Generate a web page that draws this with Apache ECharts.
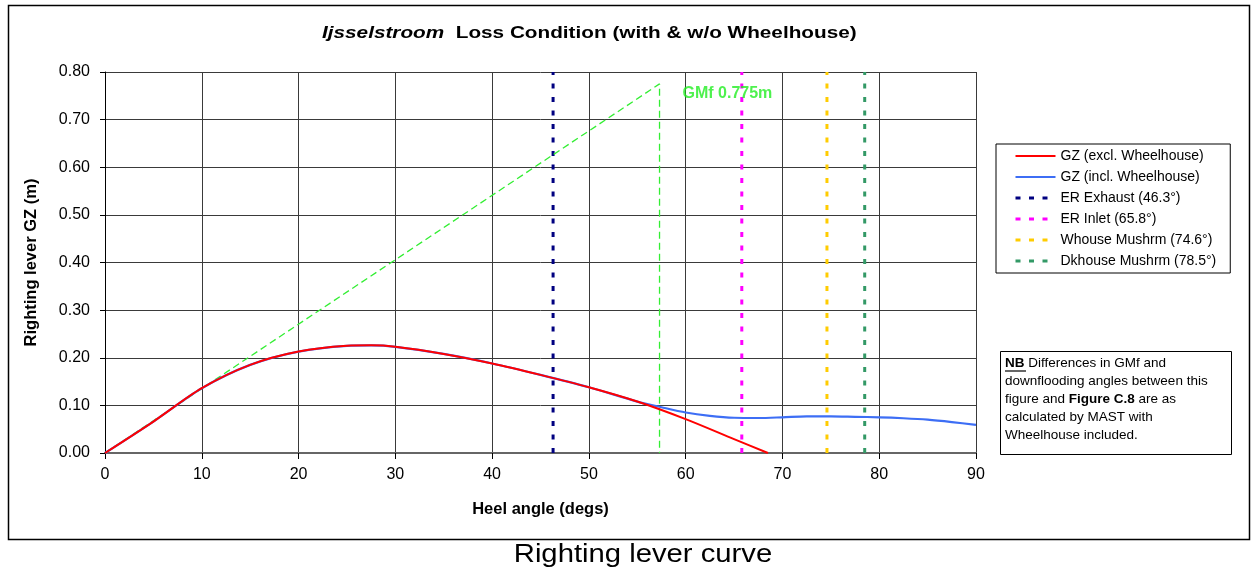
<!DOCTYPE html>
<html>
<head>
<meta charset="utf-8">
<script src="https://cdn.jsdelivr.net/npm/echarts@6/dist/echarts.min.js"></script>
<style>
  html, body { margin: 0; padding: 0; background: #fff; }
  #chart { width: 1253px; height: 573px; }
</style>
</head>
<body>
<div id="chart"></div>
<script>
// heel angle (deg) and GZ (m)
const heelExcl = [0, 5, 10, 15, 20, 25, 27.5, 30, 35, 40, 45, 50, 55, 60, 65, 68.5];
const gzExcl   = [0, 0.066, 0.136, 0.185, 0.213, 0.225, 0.226, 0.223, 0.208, 0.188, 0.164, 0.138, 0.108, 0.071, 0.029, 0];

const heelIncl = [0, 5, 10, 15, 20, 25, 27.5, 30, 35, 40, 45, 50, 55, 57.5, 60, 62.5, 65, 67.5, 70, 72.5, 75, 77.5, 80, 82.5, 85, 87.5, 90];
const gzIncl   = [0, 0.066, 0.136, 0.185, 0.213, 0.225, 0.226, 0.223, 0.208, 0.188, 0.164, 0.138, 0.108, 0.096, 0.085, 0.078, 0.074, 0.0735, 0.075, 0.077, 0.077, 0.076, 0.075, 0.073, 0.070, 0.065, 0.059];

// initial GM line: from origin to (57.3 deg = 1 rad, GMf)
const gmAngle = 57.3;
const gmValue = 0.775;

const gzNames     = ['GZ (excl. Wheelhouse)', 'GZ (incl. Wheelhouse)'];
const floodNames  = ['ER Exhaust (46.3°)', 'ER Inlet (65.8°)', 'Whouse Mushrm (74.6°)', 'Dkhouse Mushrm (78.5°)'];
const floodAngles = [46.3, 65.8, 74.6, 78.5];
const floodColors = ['#000080', '#ff00ff', '#ffcc00', '#339966'];

const xTicks = { min: 0, max: 90, interval: 10 };
const yTicks = { min: 0, max: 0.8, interval: 0.1 };

const FONT = '"Liberation Sans", Arial, sans-serif';

let chart = echarts.init(document.getElementById('chart'));

let floodSeries = floodNames.map((name, i) => ({
    name: name,
    type: 'line',
    symbol: 'none',
    data: [[floodAngles[i], yTicks.min], [floodAngles[i], yTicks.max]],
    lineStyle: { color: floodColors[i], width: 3, type: [5, 8.5], cap: 'butt' },
    itemStyle: { color: floodColors[i] },
    z: 2
}));

let legendData = gzNames.map(n => ({ name: n, lineStyle: { width: 2 } }))
    .concat(floodNames.map(n => ({ name: n, lineStyle: { width: 3 } })));

chart.setOption({
    animation: false,
    textStyle: { fontFamily: FONT },
    grid: { left: 105, right: 277, top: 72, bottom: 120 },
    legend: {
        orient: 'vertical',
        left: 996,
        top: 144,
        padding: [5, 14, 5, 18],
        itemWidth: 40,
        itemHeight: 13,
        itemGap: 7,
        backgroundColor: '#fff',
        borderColor: '#000',
        borderWidth: 1,
        itemStyle: { opacity: 0 },
        textStyle: { fontFamily: FONT, fontSize: 14, color: '#000' },
        data: legendData
    },
    xAxis: {
        type: 'value',
        min: xTicks.min, max: xTicks.max, interval: xTicks.interval,
        name: 'Heel angle (degs)',
        nameLocation: 'middle',
        nameGap: 48,
        nameTextStyle: { fontFamily: FONT, fontSize: 16.5, fontWeight: 'bold', color: '#000' },
        axisLine: { onZero: false, lineStyle: { color: '#666', width: 2 } },
        axisTick: { show: true, length: 6, lineStyle: { color: '#000' } },
        axisLabel: { fontFamily: FONT, fontSize: 16, color: '#000', margin: 14 },
        splitLine: { show: true, lineStyle: { color: '#3a3a3a', width: 1 } }
    },
    yAxis: {
        type: 'value',
        min: yTicks.min, max: yTicks.max, interval: yTicks.interval,
        name: 'Righting lever GZ (m)',
        nameLocation: 'middle',
        nameGap: 65,
        nameTextStyle: { fontFamily: FONT, fontSize: 16.5, fontWeight: 'bold', color: '#000' },
        axisLine: { show: true, lineStyle: { color: '#000', width: 1 } },
        axisTick: { show: true, length: 5, lineStyle: { color: '#000' } },
        axisLabel: { fontFamily: FONT, fontSize: 16, color: '#000', margin: 15, formatter: v => v.toFixed(2) },
        splitLine: { show: true, lineStyle: { color: '#3a3a3a', width: 1 } }
    },
    series: [
        {
            name: gzNames[0],
            type: 'line',
            symbol: 'none',
            smooth: 0.3,
            data: heelExcl.map((h, i) => [h, gzExcl[i]]),
            lineStyle: { color: '#ff0000', width: 2 },
            itemStyle: { color: '#ff0000' },
            z: 5
        },
        {
            name: gzNames[1],
            type: 'line',
            symbol: 'none',
            smooth: 0.3,
            data: heelIncl.map((h, i) => [h, gzIncl[i]]),
            lineStyle: { color: '#3d6ef5', width: 2.2 },
            itemStyle: { color: '#3d6ef5' },
            z: 4
        }
    ].concat(floodSeries).concat([
        {
            name: 'GMf',
            type: 'line',
            symbol: 'none',
            data: [[0, 0], [gmAngle, gmValue], [gmAngle, 0]],
            lineStyle: { color: '#33ee33', width: 1.3, type: [7, 4] },
            z: 3
        },
        {
            name: 'GMf label',
            type: 'scatter',
            symbolSize: 0,
            data: [[gmAngle, gmValue]],
            label: {
                show: true,
                position: 'right',
                distance: 0,
                offset: [23, 10],
                formatter: 'GMf ' + gmValue + 'm',
                fontFamily: FONT, fontSize: 16, fontWeight: 'bold', color: '#22ee22'
            },
            silent: true,
            z: 6
        }
    ]),
    graphic: [
        {
            type: 'rect',
            shape: { x: 8.5, y: 5.5, width: 1241, height: 534 },
            style: { fill: 'none', stroke: '#000', lineWidth: 1.5 },
            z: 100
        },
        {
            type: 'text',
            x: 322,
            y: 25,
            scaleX: 1.22,
            style: {
                text: '{i|Ijsselstroom}  Loss Condition (with & w/o Wheelhouse)',
                font: 'bold 17px ' + FONT,
                fill: '#000',
                rich: { i: { fontFamily: FONT, fontSize: 17, fontWeight: 'bold', fontStyle: 'italic' } }
            }
        },
        {
            type: 'rect',
            shape: { x: 1000.5, y: 351.5, width: 231, height: 103 },
            style: { fill: '#fff', stroke: '#000', lineWidth: 1 },
            z: 100
        },
        {
            type: 'text',
            x: 1005,
            y: 354,
            z: 101,
            style: {
                text: '{b|NB} Differences in GMf and\ndownflooding angles between this\nfigure and {b|Figure C.8} are as\ncalculated by MAST with\nWheelhouse included.',
                font: '13.5px ' + FONT,
                fill: '#000',
                lineHeight: 18,
                rich: {
                    b: { fontWeight: 'bold', fontSize: 13.5, fontFamily: FONT, lineHeight: 18 }
                }
            }
        },
        {
            type: 'line',
            shape: { x1: 1005, y1: 371, x2: 1026, y2: 371 },
            style: { stroke: '#000', lineWidth: 1.2 },
            z: 101
        },
        {
            type: 'text',
            x: 643,
            y: 543,
            scaleX: 1.17,
            style: {
                text: 'Righting lever curve',
                font: '25px ' + FONT,
                fill: '#000',
                textAlign: 'center'
            }
        }
    ]
});
</script>
</body>
</html>
